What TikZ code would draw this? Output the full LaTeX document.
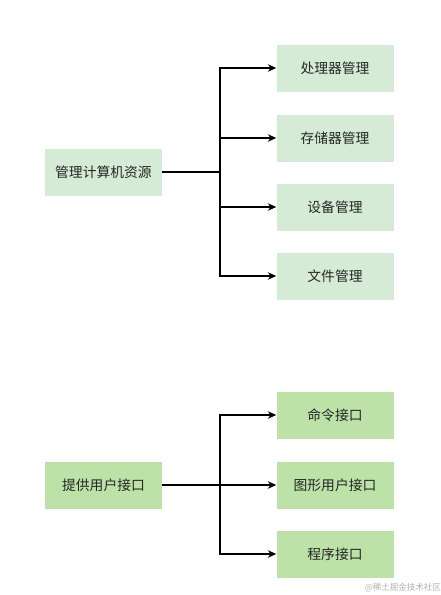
\documentclass[tikz,border=0pt]{standalone}
\usepackage{fontspec}
\setmainfont{Noto Sans CJK SC}
\usetikzlibrary{arrows.meta}
\definecolor{palegreen}{HTML}{D5EBD5}
\definecolor{leafgreen}{HTML}{BCE2A8}
\tikzset{
  topbox/.style={fill=palegreen, minimum width=117pt, minimum height=47pt, inner sep=0pt, font=\fontsize{13.8pt}{16pt}\selectfont, text=black!85},
  lowbox/.style={topbox, fill=leafgreen},
  link/.style={line width=1.2pt, black}
}
\begin{document}
\begin{tikzpicture}[x=1pt,y=-1pt,>={Stealth[length=8.5pt,width=7.5pt]}]
	\useasboundingbox[fill=white] (0,0) rectangle (441,595);
	% Manage resources
	\node[topbox] (res) at (103.5,172) {管理计算机资源};
	\node[topbox] (cpu) at (335,68) {处理器管理};
	\node[topbox] (mem) at (335,138) {存储器管理};
	\node[topbox] (dev) at (335,207) {设备管理};
	\node[topbox] (file) at (335,276) {文件管理};
	\coordinate (resfork) at (220,172);
	\draw[link] (res) -- (resfork);
	\draw[link,->] (resfork) |- (cpu);
	\draw[link,->] (resfork) |- (mem);
	\draw[link,->] (resfork) |- (dev);
	\draw[link,->] (resfork) |- (file);
	% User interfaces
	\node[lowbox] (ui) at (103.5,485) {提供用户接口};
	\node[lowbox] (cmd) at (335,415) {命令接口};
	\node[lowbox] (gui) at (335,485) {图形用户接口};
	\node[lowbox] (prog) at (335,554) {程序接口};
	\coordinate (uifork) at (220,485);
	\draw[link] (ui) -- (uifork);
	\draw[link,->] (uifork) |- (cmd);
	\draw[link,->] (uifork) -- (gui);
	\draw[link,->] (uifork) |- (prog);
	% Watermark
	\node[anchor=east, text=black!30, font=\fontsize{8.5pt}{10pt}\selectfont, inner sep=0pt] (mark) at (441,588) {@稀土掘金技术社区};
\end{tikzpicture}
\end{document}
